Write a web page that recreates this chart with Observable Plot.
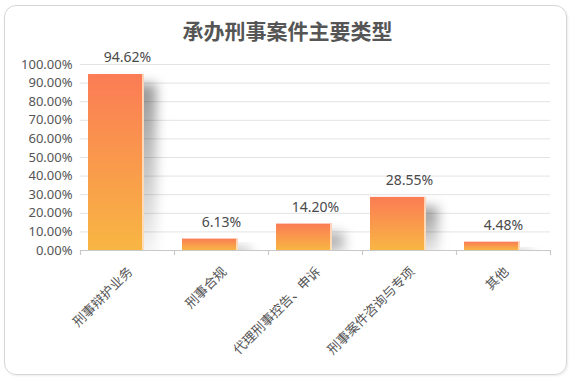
<!DOCTYPE html>
<html>
<head>
<meta charset="utf-8">
<script src="https://cdn.jsdelivr.net/npm/d3@7"></script>
<script src="https://cdn.jsdelivr.net/npm/@observablehq/plot@0.6"></script>
<style>
  html, body { margin: 0; padding: 0; background: #fff; }
  #wrap { position: relative; width: 575px; height: 382px; overflow: hidden; }
  #frame { position: absolute; left: 4px; top: 5px; width: 561px; height: 368px;
           border: 1px solid #d6d6d6; border-radius: 12px;
           box-shadow: 1px 1px 2px rgba(0,0,0,0.08); }
  #title { position: absolute; left: 0; top: 16px; width: 575px; text-align: center;
           font: bold 21px/28px "Noto Sans CJK SC", sans-serif; color: #555; }
  #chart { position: absolute; left: 0; top: 0; }
</style>
</head>
<body>
<div id="wrap">
  <div id="frame"></div>
  <div id="title">承办刑事案件主要类型</div>
  <div id="chart"></div>
</div>
<script>
const categories = ["刑事辩护业务", "刑事合规", "代理刑事控告、申诉", "刑事案件咨询与专项", "其他"];
const values = [94.62, 6.13, 14.20, 28.55, 4.48];
const yTicks = [0, 10, 20, 30, 40, 50, 60, 70, 80, 90, 100];
const boundaries = d3.range(categories.length + 1);

const font = '"Noto Sans", "Noto Sans CJK SC", sans-serif';

const chart = Plot.plot({
  width: 575,
  height: 382,
  marginLeft: 80,
  marginRight: 25,
  marginTop: 64,
  marginBottom: 132,
  x: { domain: [0, categories.length], axis: null },
  y: { domain: [0, 100], axis: null },
  style: { fontFamily: font, background: "transparent", overflow: "visible" },
  marks: [
    Plot.ruleY(yTicks, { stroke: "#e3e3e3", strokeWidth: 1 }),
    Plot.text(yTicks, {
      x: () => 0, y: d => d, text: d => d.toFixed(2) + "%",
      textAnchor: "end", dx: -8, fontSize: 13, fill: "#555"
    }),
    // shadow
    Plot.rectY(values, {
      x1: (d, i) => i, x2: (d, i) => i + 1, y1: () => 0, y2: d => d,
      insetLeft: 8, insetRight: 30, dx: 12, dy: 10,
      fill: "url(#shadowGrad)", clip: true
    }),
    // bars
    Plot.rectY(values, {
      x1: (d, i) => i, x2: (d, i) => i + 1, y1: () => 0, y2: d => d,
      insetLeft: 8, insetRight: 30, fill: "url(#barGrad)"
    }),
    // right-edge highlight
    Plot.rectY(values, {
      x1: (d, i) => i, x2: (d, i) => i + 1, y1: () => 0, y2: d => d,
      insetLeft: 62, insetRight: 30, fill: "#ffe9d2", fillOpacity: 0.8
    }),
    Plot.ruleY([0], { stroke: "#c8c8c8", strokeWidth: 1.2 }),
    Plot.ruleX(boundaries, {
      x: d => d, y1: () => 0, y2: () => 0, insetBottom: -5,
      stroke: "#c8c8c8", strokeWidth: 1.2
    }),
    Plot.text(values, {
      x: (d, i) => i + 0.5, y: d => d, text: d => d.toFixed(2) + "%",
      dy: -17, fontSize: 14, fill: "#4a4a4a"
    }),
    Plot.text(categories, {
      x: (d, i) => i + 0.5, y: () => 0, text: d => d,
      rotate: -45, textAnchor: "end", dx: 3, dy: 19,
      fontSize: 13, fill: "#555", fontFamily: '"Noto Sans CJK SC", sans-serif'
    })
  ]
});

const svg = d3.select(chart);
const defs = svg.insert("defs", ":first-child");
const g1 = defs.append("linearGradient").attr("id", "barGrad")
  .attr("x1", 0).attr("y1", 0).attr("x2", 0).attr("y2", 1);
g1.append("stop").attr("offset", "0%").attr("stop-color", "#fb7c55");
g1.append("stop").attr("offset", "100%").attr("stop-color", "#f8b643");
const g2 = defs.append("linearGradient").attr("id", "shadowGrad")
  .attr("x1", 0).attr("y1", 0).attr("x2", 0).attr("y2", 1);
g2.append("stop").attr("offset", "0%").attr("stop-color", "#000").attr("stop-opacity", 0.42);
g2.append("stop").attr("offset", "100%").attr("stop-color", "#000").attr("stop-opacity", 0.02);
const f = defs.append("filter").attr("id", "blur")
  .attr("x", "-50%").attr("y", "-50%").attr("width", "200%").attr("height", "200%");
f.append("feGaussianBlur").attr("stdDeviation", 6);
const rects = svg.selectAll("g[aria-label=rect]").nodes();
if (rects.length) {
  d3.select(rects[0]).selectAll("rect").attr("filter", "url(#blur)");
}

document.getElementById("chart").appendChild(chart);
</script>
</body>
</html>
